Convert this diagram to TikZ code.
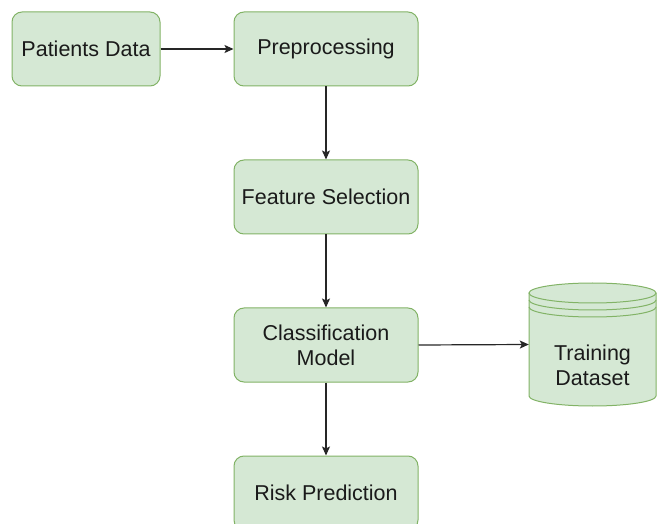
\documentclass[tikz,border=0pt]{standalone}
\usepackage{fontspec}
\setmainfont{Liberation Sans}
\usetikzlibrary{arrows.meta}
\definecolor{gfill}{HTML}{D5E8D4}
\definecolor{gdraw}{HTML}{82B366}
\definecolor{txt}{HTML}{1A1A1A}
\tikzset{
  box/.style={draw=gdraw, fill=gfill, line width=1pt, rounded corners=10pt,
    minimum width=184pt, minimum height=74pt, inner sep=0pt, align=center,
    text=txt, font=\fontsize{21.5}{25}\selectfont},
  conn/.style={line width=1.2pt, draw=black!85, -{Stealth[length=9pt,width=8pt,inset=2pt]}},
  cyl/.style={draw=gdraw, line width=1pt}
}
\begin{document}
\begin{tikzpicture}[x=1pt,y=-1pt]
\useasboundingbox (0,0) rectangle (657,524);
\node[box, minimum width=148pt] (pd) at (86,49) {Patients Data};
\node[box] (pre) at (326,49) {Preprocessing};
\node[box] (fs) at (326,197) {Feature Selection};
\node[box] (cm) at (326,345) {Classification\\Model};
\node[box] (rp) at (326,493) {Risk Prediction};
% cylinder
\node[minimum width=127pt, minimum height=123pt, inner sep=0pt] (ds) at (592.5,344.5) {};
\fill[gfill] (529,293) -- (529,396) arc[start angle=180,end angle=360,x radius=63.5pt,y radius=10pt] -- (656,293) arc[start angle=0,end angle=180,x radius=63.5pt,y radius=10pt] -- cycle;
\draw[cyl] (529,293) -- (529,396) arc[start angle=180,end angle=360,x radius=63.5pt,y radius=10pt] -- (656,293);
\draw[cyl] (592.5,293) ellipse[x radius=63.5pt, y radius=10pt];
\draw[cyl] (529,300) arc[start angle=180,end angle=360,x radius=63.5pt,y radius=10pt];
\draw[cyl] (529,307) arc[start angle=180,end angle=360,x radius=63.5pt,y radius=10pt];
\node[align=center, text=txt, font=\fontsize{21.5}{25}\selectfont] (dst) at (592.5,365) {Training\\Dataset};
% connectors
\draw[conn] (pd) -- (pre);
\draw[conn] (pre) -- (fs);
\draw[conn] (fs) -- (cm);
\draw[conn] (cm) -- (rp);
\draw[conn] (cm.east) -- (ds.west);
\end{tikzpicture}
\end{document}
